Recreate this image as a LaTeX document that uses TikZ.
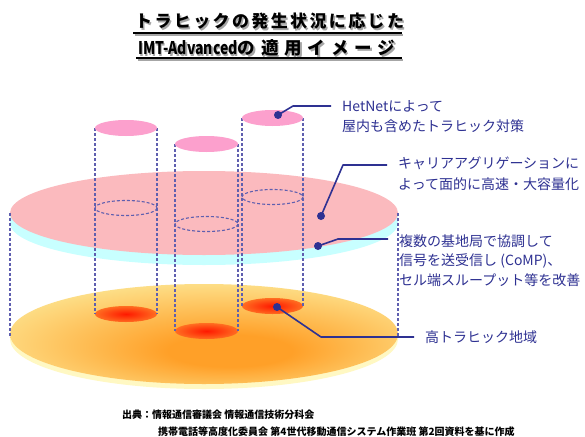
\documentclass[tikz,border=0pt]{standalone}
\usepackage{fontspec}
\setmainfont{Noto Sans CJK JP}
\newfontfamily\jptitle[LetterSpace=14]{Noto Sans CJK JP}
\newfontfamily\jptitlewide[LetterSpace=34]{Noto Sans CJK JP}
\newfontfamily\latintitle[FakeStretch=0.8]{Noto Sans CJK JP}
\usetikzlibrary{calc}

\definecolor{navy}{RGB}{46,49,146}
\definecolor{dashblue}{RGB}{95,95,175}
\definecolor{diskpink}{RGB}{251,186,190}
\definecolor{toppink}{RGB}{252,160,205}
\definecolor{rimcyan}{RGB}{200,255,255}
\definecolor{fieldyellow}{RGB}{253,232,150}
\definecolor{fieldorange}{RGB}{255,160,40}
\definecolor{rimyellow}{RGB}{255,248,195}
\definecolor{hotred}{RGB}{255,25,0}
\definecolor{hotedge}{RGB}{255,140,45}

% soft orange field under the cells, hot cores for the busy spots
\pgfdeclareradialshading{field}{\pgfpoint{4bp}{-10bp}}{color(0bp)=(fieldorange); color(8bp)=(fieldorange); color(33bp)=(fieldyellow); color(50bp)=(fieldyellow)}
\pgfdeclareradialshading{hotspot}{\pgfpointorigin}{color(0bp)=(hotred); color(14bp)=(hotred!60!hotedge); color(34bp)=(hotedge); color(50bp)=(hotedge!70!fieldorange)}

% text with a grey drop shadow behind it
\newcommand\shadowed[1]{\rlap{\kern1.5pt\raisebox{-2pt}{\color{black!35}#1}}#1}

\begin{document}
\begin{tikzpicture}[x=1pt, y=-1pt, line join=round,
  guide/.style={dashblue, line width=1.1pt, dash pattern=on 3pt off 2pt},
  callout/.style={navy, line width=1.6pt},
  calltext/.style={navy, font=\fontsize{14}{20.5}\selectfont, align=left,
    anchor=west, inner xsep=11pt, inner ysep=0pt},
  ]
  \useasboundingbox (0,0) rectangle (585,436);
  \fill[white] (0,0) rectangle (585,436);

  % Title, two underlined lines with a grey drop shadow
  \node (title1) [anchor=west, inner sep=0pt] at (135,22)
    {\jptitle\fontsize{17}{17}\selectfont\bfseries\shadowed{トラヒックの発生状況に応じた}};
  \node (title2) [anchor=west, inner sep=0pt] at (138,49)
    {\fontsize{17.5}{17}\selectfont\bfseries\shadowed{{\latintitle IMT-Advanced}{\jptitlewide の適用イメージ}}};
  \draw[black!35, line width=1.5pt] (134.5,35) -- (403,35);
  \draw[black, line width=1.4pt] (133,33) -- (401.5,33);
  \draw[black!35, line width=1.5pt] (137.5,60) -- (403,60);
  \draw[black, line width=1.4pt] (136,58) -- (401.5,58);

  % Ground layer: traffic field with its rim
  \fill[rimyellow] (204,339) ellipse [x radius=194, y radius=50];
  \shade[shading=field] (204,334) ellipse [x radius=194, y radius=50];

  % High-traffic spots under each small cell
  \shade[shading=hotspot] (126,314) ellipse [x radius=31, y radius=8];
  \shade[shading=hotspot] (206.5,331) ellipse [x radius=31.5, y radius=8];
  \shade[shading=hotspot] (272.5,306) ellipse [x radius=30.5, y radius=8];

  % Macro cell disk (cyan edge, dotted pink face)
  \fill[rimcyan] (204,223) ellipse [x radius=194, y radius=42];
  \fill[rimcyan] (10,213) rectangle (398,223);
  \fill[diskpink] (204,213) ellipse [x radius=194, y radius=42];

  % Footprints of the small cells on the macro disk
  \draw[guide] (126,208) ellipse [x radius=31, y radius=7.5];
  \draw[guide] (206.5,224) ellipse [x radius=31.5, y radius=7.5];
  \draw[guide] (272.5,197) ellipse [x radius=30.5, y radius=7.5];

  % Macro cell outline down to the ground
  \draw[guide] (10,213) -- (10,336);
  \draw[guide] (398,213) -- (398,336);

  % Small cell cylinders
  \draw[guide] (95,128) -- (95,314);
  \draw[guide] (157,128) -- (157,314);
  \draw[guide] (175,144) -- (175,331);
  \draw[guide] (238,144) -- (238,331);
  \draw[guide] (242,118) -- (242,306);
  \draw[guide] (303,118) -- (303,306);
  \fill[toppink] (126,128) ellipse [x radius=31, y radius=8];
  \fill[toppink] (206.5,144) ellipse [x radius=31.5, y radius=8];
  \fill[toppink] (272.5,118) ellipse [x radius=30.5, y radius=8];

  % Callout texts
  \node (hetnet) [calltext] at (331,116.5)
    {HetNetによって\\屋内も含めたトラヒック対策};
  \node (carrier) [calltext] at (387,173.5)
    {キャリアアグリゲーションに\\よって面的に高速・大容量化};
  \node (comp) [calltext, font=\fontsize{14}{19.5}\selectfont] at (388,260.5)
    {複数の基地局で協調して\\信号を送受信し (CoMP)、\\セル端スループット等を改善};
  \node (hotarea) [calltext] at (414,337) {高トラヒック地域};

  % Callout leaders
  \coordinate (hetnet-dot) at (278,115);
  \coordinate (hetnet-knee) at (293,106);
  \coordinate (carrier-dot) at (321,216);
  \coordinate (carrier-knee) at (343,165);
  \coordinate (comp-dot) at (318,246);
  \coordinate (comp-knee) at (338,239);
  \coordinate (hotarea-dot) at (277,307);
  \coordinate (hotarea-knee) at (321,337);

  \draw[callout] (hetnet-dot) -- (hetnet-knee) -- (hetnet-knee -| hetnet.west);
  \draw[callout] (carrier-dot) -- (carrier-knee) -- (carrier-knee -| carrier.west);
  \draw[callout] (comp-dot) -- (comp-knee) -- (comp-knee -| comp.west);
  \draw[callout] (hotarea-dot) -- (hotarea-knee) -- (hotarea-knee -| hotarea.west);
  \fill[navy] (hetnet-dot) circle [radius=4];
  \fill[navy] (carrier-dot) circle [radius=4];
  \fill[navy] (comp-dot) circle [radius=4];
  \fill[navy] (hotarea-dot) circle [radius=4];

  % Source note
  \node (src1) [anchor=west, inner sep=0pt, font=\fontsize{10}{10}\selectfont\bfseries]
    at (122,415) {出典：情報通信審議会 情報通信技術分科会};
  \node (src2) [anchor=west, inner sep=0pt, font=\fontsize{10}{10}\selectfont\bfseries]
    at (158,432) {携帯電話等高度化委員会 第4世代移動通信システム作業班 第2回資料を基に作成};
\end{tikzpicture}
\end{document}
